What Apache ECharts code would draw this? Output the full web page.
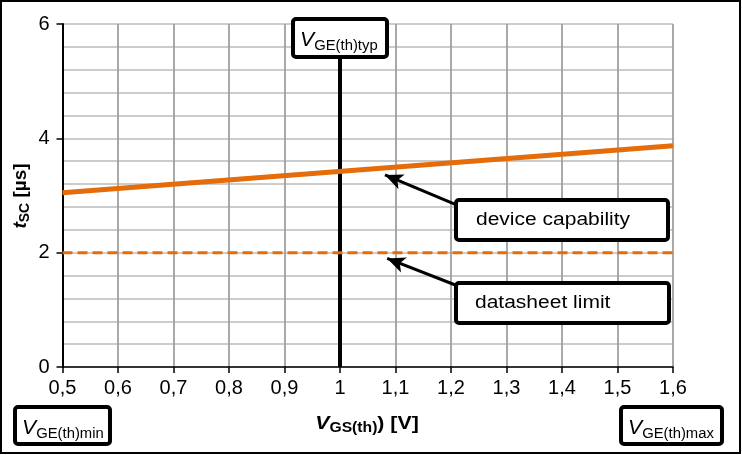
<!DOCTYPE html>
<html><head><meta charset="utf-8">
<script src="https://cdn.jsdelivr.net/npm/echarts@6/dist/echarts.min.js"></script>
<style>html,body{margin:0;padding:0;background:#fff}#c{width:742px;height:455px}</style>
</head><body><div id="c"></div>
<script>
// Data
var xTicks = [0.5,0.6,0.7,0.8,0.9,1.0,1.1,1.2,1.3,1.4,1.5,1.6];
var yTicks = [0,2,4,6];
var capabilityX = [0.5, 1.6];
var capabilityY = [3.05, 3.87];
var limitX = [0.5, 1.6];
var limitY = [2, 2];
var typX = [1.0, 1.0];
var typY = [0, 6];
// annotation arrows: [fromX, fromY, toX, toY]
var arrowCapability = [1.211, 2.83, 1.081, 3.36];
var arrowLimit = [1.209, 1.43, 1.085, 1.90];

var FONT = 'Liberation Sans';
var ORANGE = '#e46c0a';
var SX = 1.2;

function pairs(xs, ys){ return xs.map(function(x,i){return [x, ys[i]];}); }

var chart = echarts.init(document.getElementById('c'), null, {renderer:'canvas'});

function box(x,y,w,h){
  return {type:'rect', z:100, shape:{x:x,y:y,width:w,height:h,r:3},
    style:{fill:'#fff', stroke:'#000', lineWidth:4}};
}
function rtext(x,y,main,sub){
  return {type:'text', z:101, x:x, y:y, scaleX:1.06,
    style:{text:'{v|'+main+'}{s|'+sub+'}', align:'left', verticalAlign:'middle',
      rich:{v:{fontFamily:FONT,fontSize:20,fontStyle:'italic',fill:'#000',verticalAlign:'bottom'},
            s:{fontFamily:FONT,fontSize:14,fill:'#000',verticalAlign:'bottom',padding:[0,0,-3,0]}}}};
}
function ptext(x,y,t){
  return {type:'text', z:101, x:x, y:y, scaleX:SX,
    style:{text:t, font:'17.5px "'+FONT+'"', fill:'#000', align:'left', verticalAlign:'middle'}};
}

var option = {
  animation:false,
  textStyle:{fontFamily:FONT, fontSize:20},
  grid:{left:62.5, right:69, top:24, bottom:88, containLabel:false},
  xAxis:{type:'value', min:0.5, max:1.6, interval:0.1,
    axisLine:{show:true, onZero:false, lineStyle:{color:'#000', width:1.5}},
    axisTick:{show:true, length:6, lineStyle:{color:'#000', width:1.5}},
    axisLabel:{fontFamily:FONT, fontSize:20, color:'#000', margin:11,
      formatter:function(v){ return String(+(+v).toFixed(1)).replace('.',','); }},
    splitLine:{show:true, lineStyle:{color:'#a0a0a0', width:1.8}}},
  yAxis:{type:'value', min:0, max:6, interval:2,
    axisLine:{show:true, lineStyle:{color:'#000', width:2}},
    axisTick:{show:true, length:6, lineStyle:{color:'#000', width:1.5}},
    axisLabel:{fontFamily:FONT, fontSize:20, color:'#000', margin:13},
    splitLine:{show:true, lineStyle:{color:'#bcbcbc', width:1.5}},
    minorTick:{show:false, splitNumber:5},
    minorSplitLine:{show:true, lineStyle:{color:'#bcbcbc', width:1.5}}},
  series:[
    {type:'line', data:pairs(typX,typY), symbol:'none', lineStyle:{color:'#000', width:4}, z:3},
    {type:'line', data:pairs(limitX,limitY), symbol:'none', lineStyle:{color:ORANGE, width:3, type:[10,5]}, z:4,
      markLine:{silent:true, symbol:['none','arrow'], symbolSize:[12,18], label:{show:false},
        lineStyle:{color:'#000', width:3, type:'solid'},
        data:[
          [{coord:[arrowCapability[0],arrowCapability[1]]},{coord:[arrowCapability[2],arrowCapability[3]]}],
          [{coord:[arrowLimit[0],arrowLimit[1]]},{coord:[arrowLimit[2],arrowLimit[3]]}]
        ]}},
    {type:'line', data:pairs(capabilityX,capabilityY), symbol:'none', lineStyle:{color:ORANGE, width:5}, z:5}
  ],
  graphic:[
    {type:'rect', z:0, shape:{x:1,y:1,width:739,height:452}, style:{fill:'none', stroke:'#000', lineWidth:2}},
    box(293,19,94,38), rtext(300,40,'V','GE(th)typ'),
    box(456,200,212,40), ptext(476,220,'device capability'),
    box(456,283,213,40), ptext(475,303,'datasheet limit'),
    box(15,407,95,37), rtext(22,428,'V','GE(th)min'),
    box(621,407,101,37), rtext(628,428,'V','GE(th)max'),
    {type:'text', z:101, x:367, y:424, scaleX:1.12, style:{text:'{v|V}{s|GS(th)}{b|) [V]}', align:'center', verticalAlign:'middle',
      rich:{v:{fontFamily:FONT,fontSize:19,fontWeight:'bold',fontStyle:'italic',fill:'#000'},
            s:{fontFamily:FONT,fontSize:14,fontWeight:'bold',fill:'#000',padding:[8,0,0,0]},
            b:{fontFamily:FONT,fontSize:19,fontWeight:'bold',fill:'#000'}}}},
    {type:'text', z:101, x:21, y:196, rotation:Math.PI/2,
      style:{text:'{v|t}{s|SC}{b| [µs]}', align:'center', verticalAlign:'middle',
      rich:{v:{fontFamily:FONT,fontSize:19,fontWeight:'bold',fontStyle:'italic',fill:'#000'},
            s:{fontFamily:FONT,fontSize:14,fontWeight:'bold',fill:'#000',padding:[8,0,0,0]},
            b:{fontFamily:FONT,fontSize:19,fontWeight:'bold',fill:'#000'}}}}
  ]
};
chart.setOption(option);
</script></body></html>
